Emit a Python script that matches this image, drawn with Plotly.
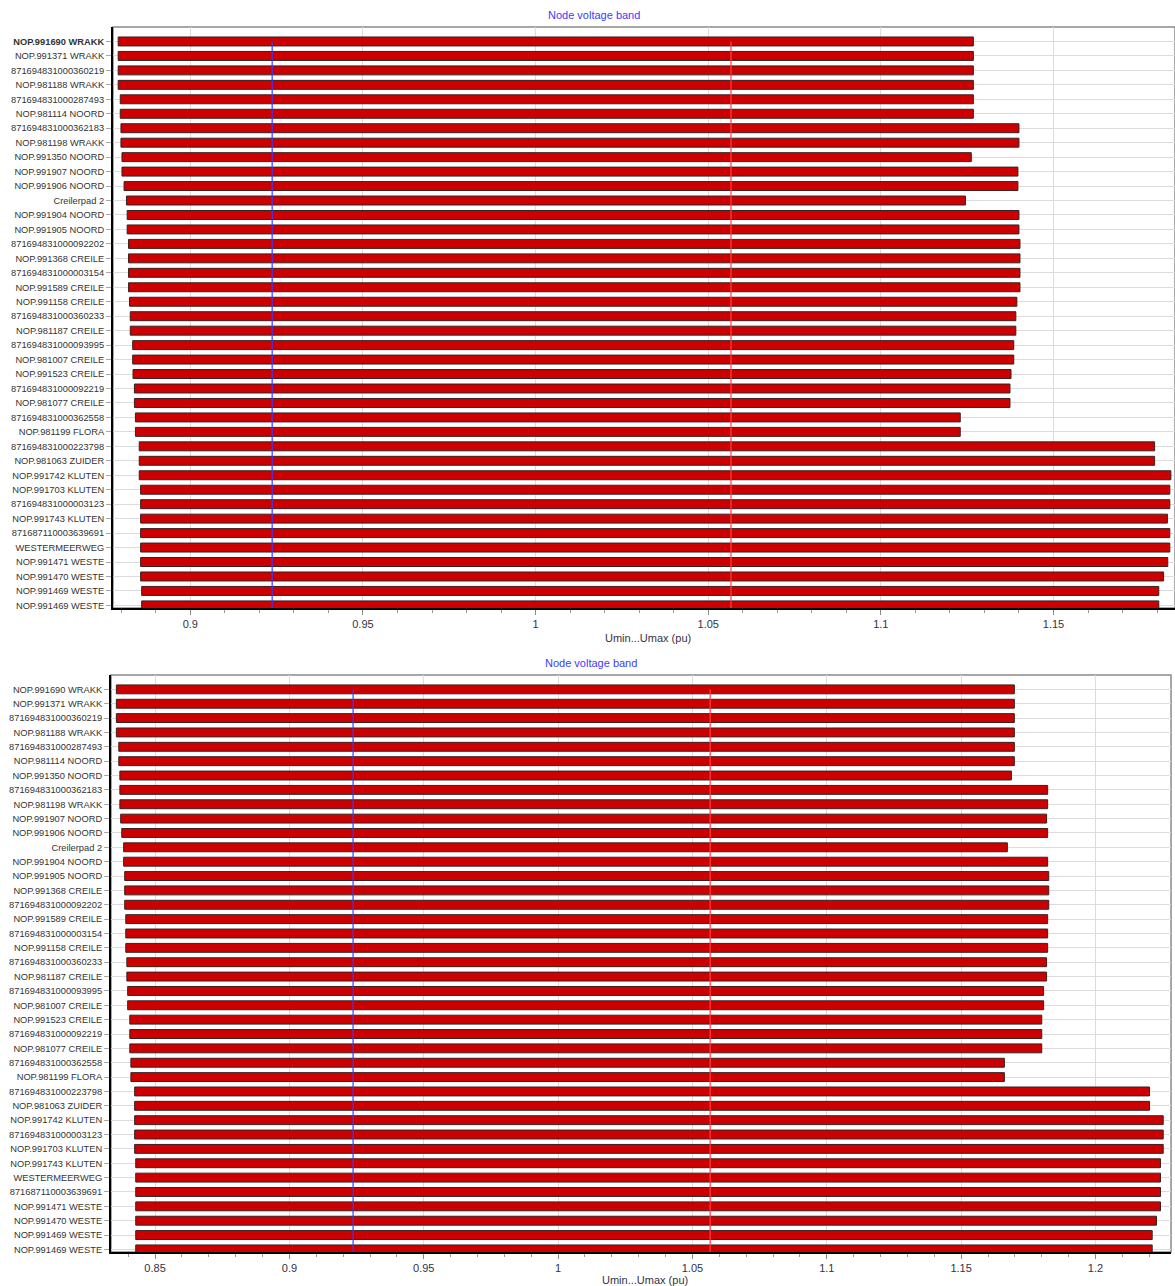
import plotly.graph_objects as go

# ---------------- data: top chart ----------------
top_labels = [
    "NOP.991690 WRAKK", "NOP.991371 WRAKK", "871694831000360219", "NOP.981188 WRAKK",
    "871694831000287493", "NOP.981114 NOORD", "871694831000362183", "NOP.981198 WRAKK",
    "NOP.991350 NOORD", "NOP.991907 NOORD", "NOP.991906 NOORD", "Creilerpad 2",
    "NOP.991904 NOORD", "NOP.991905 NOORD", "871694831000092202", "NOP.991368 CREILE",
    "871694831000003154", "NOP.991589 CREILE", "NOP.991158 CREILE", "871694831000360233",
    "NOP.981187 CREILE", "871694831000093995", "NOP.981007 CREILE", "NOP.991523 CREILE",
    "871694831000092219", "NOP.981077 CREILE", "871694831000362558", "NOP.981199 FLORA",
    "871694831000223798", "NOP.981063 ZUIDER", "NOP.991742 KLUTEN", "NOP.991703 KLUTEN",
    "871694831000003123", "NOP.991743 KLUTEN", "871687110003639691", "WESTERMEERWEG",
    "NOP.991471 WESTE", "NOP.991470 WESTE", "NOP.991469 WESTE", "NOP.991469 WESTE",
]
top_umin = [
    0.8791, 0.8791, 0.8791, 0.8791, 0.8797, 0.8797, 0.8799, 0.8799, 0.8802, 0.8802,
    0.8808, 0.8815, 0.8817, 0.8817, 0.8821, 0.8821, 0.8821, 0.8821, 0.8824, 0.8826,
    0.8826, 0.8833, 0.8833, 0.8834, 0.8838, 0.8838, 0.8841, 0.8841, 0.8852, 0.8852,
    0.8852, 0.8856, 0.8856, 0.8856, 0.8856, 0.8856, 0.8856, 0.8856, 0.8859, 0.8859,
]
top_umax = [
    1.1268, 1.1268, 1.1268, 1.1268, 1.1268, 1.1268, 1.1400, 1.1400, 1.1262, 1.1397,
    1.1397, 1.1245, 1.1400, 1.1400, 1.1403, 1.1403, 1.1403, 1.1403, 1.1394, 1.1391,
    1.1391, 1.1385, 1.1385, 1.1377, 1.1374, 1.1374, 1.1230, 1.1230, 1.1793, 1.1793,
    1.1840, 1.1837, 1.1837, 1.1830, 1.1837, 1.1837, 1.1831, 1.1819, 1.1805, 1.1805,
]

# ---------------- data: bottom chart ----------------
bot_labels = [
    "NOP.991690 WRAKK", "NOP.991371 WRAKK", "871694831000360219", "NOP.981188 WRAKK",
    "871694831000287493", "NOP.981114 NOORD", "NOP.991350 NOORD", "871694831000362183",
    "NOP.981198 WRAKK", "NOP.991907 NOORD", "NOP.991906 NOORD", "Creilerpad 2",
    "NOP.991904 NOORD", "NOP.991905 NOORD", "NOP.991368 CREILE", "871694831000092202",
    "NOP.991589 CREILE", "871694831000003154", "NOP.991158 CREILE", "871694831000360233",
    "NOP.981187 CREILE", "871694831000093995", "NOP.981007 CREILE", "NOP.991523 CREILE",
    "871694831000092219", "NOP.981077 CREILE", "871694831000362558", "NOP.981199 FLORA",
    "871694831000223798", "NOP.981063 ZUIDER", "NOP.991742 KLUTEN", "871694831000003123",
    "NOP.991703 KLUTEN", "NOP.991743 KLUTEN", "WESTERMEERWEG", "871687110003639691",
    "NOP.991471 WESTE", "NOP.991470 WESTE", "NOP.991469 WESTE", "NOP.991469 WESTE",
]
bot_umin = [
    0.8356, 0.8356, 0.8356, 0.8356, 0.8365, 0.8365, 0.8369, 0.8369, 0.8369, 0.8372,
    0.8376, 0.8383, 0.8383, 0.8387, 0.8387, 0.8387, 0.8391, 0.8391, 0.8391, 0.8395,
    0.8395, 0.8398, 0.8398, 0.8406, 0.8406, 0.8406, 0.8410, 0.8410, 0.8424, 0.8424,
    0.8424, 0.8424, 0.8424, 0.8428, 0.8428, 0.8428, 0.8428, 0.8428, 0.8428, 0.8428,
]
bot_umax = [
    1.1698, 1.1698, 1.1698, 1.1698, 1.1698, 1.1698, 1.1687, 1.1822, 1.1822, 1.1818,
    1.1822, 1.1672, 1.1822, 1.1826, 1.1826, 1.1826, 1.1822, 1.1822, 1.1822, 1.1818,
    1.1818, 1.1807, 1.1807, 1.1800, 1.1800, 1.1800, 1.1661, 1.1661, 1.2201, 1.2201,
    1.2252, 1.2252, 1.2252, 1.2242, 1.2242, 1.2242, 1.2242, 1.2227, 1.2211, 1.2211,
]

lower_limit = 0.9237
upper_limit = 1.0566

top_xrange = [0.8776, 1.1852]
bot_xrange = [0.8336, 1.2281]
top_ticks = [0.9, 0.95, 1.0, 1.05, 1.1, 1.15]
bot_ticks = [0.85, 0.9, 0.95, 1.0, 1.05, 1.1, 1.15, 1.2]

TITLE = "Node voltage band"
XTITLE = "Umin...Umax (pu)"

W, H = 1175, 1286
FONT = "Liberation Sans, Arial, sans-serif"

fig = go.Figure()

panels = [
    dict(labels=top_labels, umin=top_umin, umax=top_umax, xr=top_xrange, ticks=top_ticks,
         xa="x", ya="y", xpx=(113, 1175), ypx=(27, 608), title_y=15, xtitle_y=638, bold_first=True),
    dict(labels=bot_labels, umin=bot_umin, umax=bot_umax, xr=bot_xrange, ticks=bot_ticks,
         xa="x2", ya="y2", xpx=(111, 1171), ypx=(675, 1252), title_y=663, xtitle_y=1280, bold_first=False),
]

annotations = []
shapes = []
for i, p in enumerate(panels):
    n = len(p["labels"])
    idx = list(range(n))
    widths = [b - a for a, b in zip(p["umin"], p["umax"])]
    fig.add_trace(go.Bar(
        x=widths, base=p["umin"], y=idx, orientation="h",
        marker=dict(color="#cc0000", line=dict(color="#3a2020", width=1)),
        width=0.62, xaxis=p["xa"], yaxis=p["ya"], showlegend=False,
        hoverinfo="skip",
    ))
    # limit lines
    for v, c in ((lower_limit, "#3a3aff"), (upper_limit, "#ff4040")):
        fig.add_trace(go.Scatter(
            x=[v, v], y=[0, n - 1 + 0.25], mode="lines",
            line=dict(color=c, width=1.2), xaxis=p["xa"], yaxis=p["ya"],
            showlegend=False, hoverinfo="skip",
        ))
    ticktext = list(p["labels"])
    if p["bold_first"]:
        ticktext[0] = "<b>" + ticktext[0] + "</b>"

    x0, x1 = p["xpx"]
    y0, y1 = p["ypx"]
    xdom = [x0 / W, x1 / W]
    ydom = [1 - y1 / H, 1 - y0 / H]
    suffix = "" if i == 0 else "2"
    fig.update_layout(**{
        "xaxis" + suffix: dict(
            domain=xdom, range=p["xr"], anchor="y" + suffix,
            tickvals=p["ticks"], ticktext=[("%g" % t) for t in p["ticks"]],
            showgrid=True, gridcolor="#dcdcdc", gridwidth=1,
            ticks="outside", ticklen=5, tickcolor="#888888",
            minor=dict(dtick=0.01, tick0=0.0, ticks="outside", ticklen=3,
                       tickcolor="#999999", showgrid=False),
            showline=True, linecolor="#000000", linewidth=2,
            tickfont=dict(family=FONT, size=11, color="#333344"),
            zeroline=False, automargin=False, fixedrange=True,
        ),
        "yaxis" + suffix: dict(
            domain=ydom, range=[n - 1 + 0.18, -1.0], anchor="x" + suffix,
            tickvals=idx, ticktext=ticktext,
            showgrid=True, gridcolor="#dcdcdc", gridwidth=1,
            ticks="outside", ticklen=5, tickcolor="#aaaaaa",
            showline=True, linecolor="#000000", linewidth=2,
            tickfont=dict(family=FONT, size=9.3, color="#333333"),
            zeroline=False, automargin=False, fixedrange=True,
        ),
    })
    # gray frame for top/right
    shapes.append(dict(type="rect", xref="paper", yref="paper",
                       x0=xdom[0], x1=xdom[1], y0=ydom[0], y1=ydom[1],
                       line=dict(color="#8a8a8a", width=1.5), layer="below"))
    annotations.append(dict(text=TITLE, xref="paper", yref="paper",
                            x=((x0 + x1) / 2 - 50) / W, y=1 - p["title_y"] / H,
                            xanchor="center", yanchor="middle", showarrow=False,
                            font=dict(family=FONT, size=11, color="#3b3bff")))
    annotations.append(dict(text=XTITLE, xref="paper", yref="paper",
                            x=((x0 + x1) / 2 + 4) / W, y=1 - p["xtitle_y"] / H,
                            xanchor="center", yanchor="middle", showarrow=False,
                            font=dict(family=FONT, size=11, color="#333344")))

fig.update_layout(
    width=W, height=H,
    margin=dict(l=0, r=0, t=0, b=0, pad=0),
    paper_bgcolor="white", plot_bgcolor="white",
    bargap=0.38, shapes=shapes, annotations=annotations,
    font=dict(family=FONT),
)

fig.write_html("out.html", config={"displayModeBar": False},
               post_script="document.body.style.margin='0';document.body.style.overflow='hidden';")
